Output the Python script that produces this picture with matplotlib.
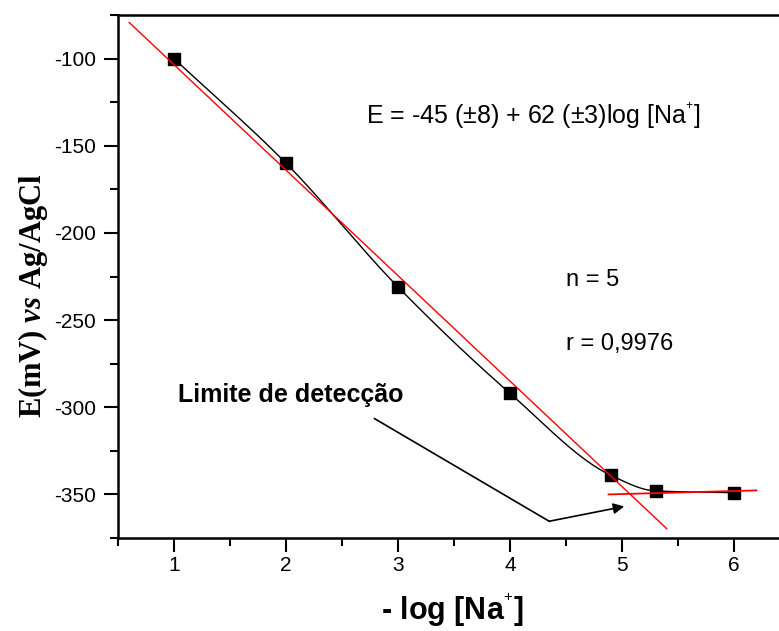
import numpy as np
import matplotlib
matplotlib.use('Agg')
import matplotlib.pyplot as plt
from matplotlib.ticker import MultipleLocator

# dados
pNa = [1, 2, 3, 4, 4.9, 5.3, 6]
E_mV = [-100, -160, -231, -292, -339, -348, -349]

# reta de ajuste (regiao linear) e reta do patamar
fit_x = [0.6, 5.4]
fit_a, fit_b = -43.0, -60.5
flat_x = [4.88, 6.2]
flat_y = [-350.0, -347.7]

# seta "Limite de detecção"
arrow_pts = [(2.79, -306.5), (4.35, -365.4), (5.02, -356.9)]

plt.rcParams['font.family'] = ['Liberation Sans', 'DejaVu Sans']
plt.rcParams['axes.unicode_minus'] = False
plt.rcParams['mathtext.fontset'] = 'custom'
plt.rcParams['mathtext.rm'] = 'Liberation Serif:bold'
plt.rcParams['mathtext.it'] = 'Liberation Serif:bold:italic'
plt.rcParams['mathtext.bf'] = 'Liberation Serif:bold'
plt.rcParams['mathtext.sf'] = 'Liberation Sans'


def pchip(x, y, xs):
    x = np.asarray(x, float)
    y = np.asarray(y, float)
    h = np.diff(x)
    d = np.diff(y) / h
    n = len(x)
    m = np.zeros(n)
    for k in range(1, n - 1):
        if d[k - 1] * d[k] > 0:
            w1 = 2 * h[k] + h[k - 1]
            w2 = h[k] + 2 * h[k - 1]
            m[k] = (w1 + w2) / (w1 / d[k - 1] + w2 / d[k])
    m[0] = d[0]
    m[-1] = d[-1]
    out = np.empty_like(xs)
    for i, xv in enumerate(xs):
        k = min(np.searchsorted(x, xv) - 1, n - 2)
        k = max(k, 0)
        t = (xv - x[k]) / h[k]
        h00 = 2 * t**3 - 3 * t**2 + 1
        h10 = t**3 - 2 * t**2 + t
        h01 = -2 * t**3 + 3 * t**2
        h11 = t**3 - t**2
        out[i] = h00 * y[k] + h10 * h[k] * m[k] + h01 * y[k + 1] + h11 * h[k] * m[k + 1]
    return out


fig = plt.figure(figsize=(7.79, 6.31), dpi=100)
# eixo direito fica fora da figura (como no original)
ax = fig.add_axes([118 / 779, 1 - 538 / 631, 672 / 779, 523 / 631])

xs = np.linspace(1, 6, 300)
ax.plot(xs, pchip(pNa, E_mV, xs), color='black', lw=1, zorder=2)
ax.plot(pNa, E_mV, 's', color='black', ms=8, zorder=3)

fx = np.array(fit_x)
ax.plot(fx, fit_a + fit_b * fx, color='red', lw=1, zorder=4)
ax.plot(flat_x, flat_y, color='red', lw=1.3, zorder=4)

(x0, y0), (x1, y1), (x2, y2) = arrow_pts
ax.plot([x0, x1], [y0, y1], color='black', lw=1.2)
ax.annotate('', xy=(x2, y2), xytext=(x1, y1),
            arrowprops=dict(arrowstyle='-|>', color='black', lw=1.2,
                            mutation_scale=16, shrinkA=0, shrinkB=0))

ax.text(2.71, -133, 'E = -45 (±8) + 62 (±3)log [Na$^{{}^{\\mathsf{+}}}$]',
        fontsize=18, va='center', ha='left')
ax.text(4.5, -227, 'n = 5', fontsize=17, va='center', ha='left')
ax.text(4.5, -264, 'r = 0,9976', fontsize=17, va='center', ha='left')
ax.text(1.04, -293, 'Limite de detecção', fontsize=18, fontweight='bold',
        va='center', ha='left')

ax.set_xlim(0.5, 6.5)
ax.set_ylim(-375, -75)
ax.xaxis.set_major_locator(MultipleLocator(1))
ax.xaxis.set_minor_locator(MultipleLocator(0.5))
ax.yaxis.set_major_locator(MultipleLocator(50))
ax.yaxis.set_minor_locator(MultipleLocator(25))
ax.set_xticks([1, 2, 3, 4, 5, 6])
ax.tick_params(which='major', direction='out', length=10, width=1.5, labelsize=15)
ax.tick_params(which='minor', direction='out', length=6, width=1.5)
ax.tick_params(axis='x', pad=3)
ax.tick_params(axis='y', pad=6)
for s in ['left', 'bottom', 'top']:
    ax.spines[s].set_linewidth(1.8)
ax.spines['right'].set_visible(False)

fig.text(452 / 779, 1 - 610 / 631, '- log [Na$^{{}^{\\mathsf{+}}}$]', fontsize=22,
         fontweight='bold', ha='center', va='center')
fig.text(33 / 779, 1 - 296 / 631, r'$\mathrm{E(mV)}\ \mathit{vs}\ \mathrm{Ag/AgCl}$',
         fontsize=22, rotation=90, ha='center', va='center')

fig.savefig('out.png', dpi=100)
